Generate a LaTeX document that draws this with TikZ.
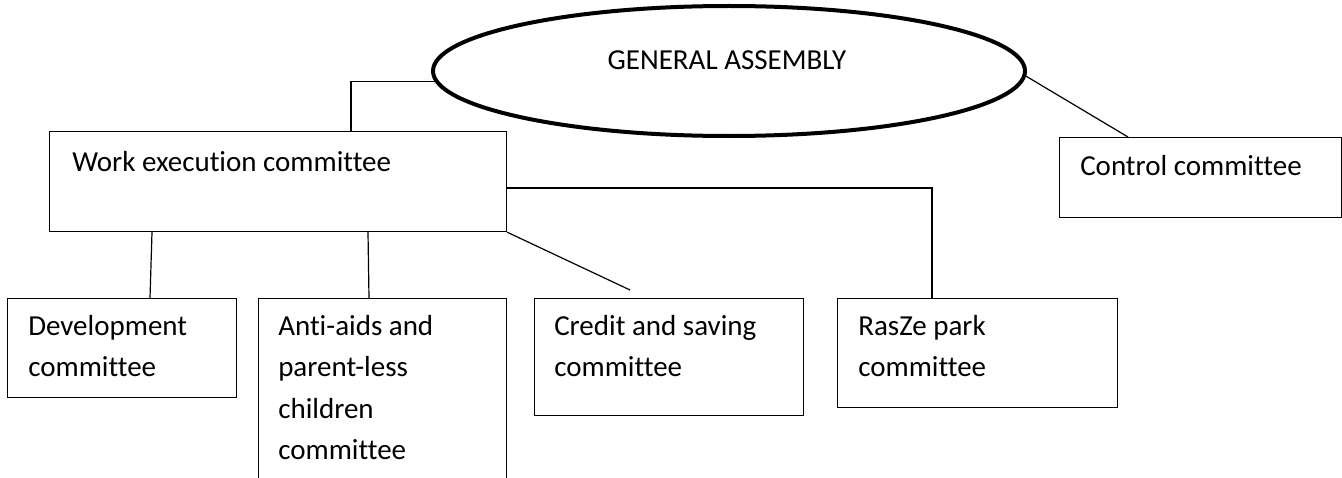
\documentclass[tikz,border=0pt]{standalone}
\usepackage{fontspec}
\setmainfont{Carlito}[Ligatures=NoCommon]
\usetikzlibrary{shapes.geometric,calc}
\tikzset{
  assembly/.style={draw, ellipse, line width=3pt, minimum width=444pt, minimum height=97.5pt, inner sep=0pt},
  cbox/.style={draw, rectangle, anchor=north west, line width=0.9pt, inner sep=0pt},
  ctext/.style={anchor=north west, align=left, inner sep=0pt, font=\fontsize{21.75}{31.1}\selectfont},
  link/.style={line width=0.9pt},
}
\begin{document}
\begin{tikzpicture}[x=0.75pt,y=0.75pt,yscale=-1,xscale=1]
        \useasboundingbox (0,0) rectangle (1342,478);

        %Shape: Ellipse
        \node[assembly] (ga) at (729,71) {};
        \node[ctext, anchor=center] (gatext) at ($(ga.center)+(-2,-11)$) {GENERAL ASSEMBLY};

        %Shape: Rectangle
        \node[cbox, minimum width=342.75pt, minimum height=75pt] (work) at (49,131) {};
        \node[ctext] (worktext) at ($(work.north west)+(23,20)$) {Work execution committee};
        %Shape: Rectangle
        \node[cbox, minimum width=211.5pt, minimum height=60pt] (control) at (1059,137) {};
        \node[ctext] (controltext) at ($(control.north west)+(21,18)$) {Control committee};
        %Shape: Rectangle
        \node[cbox, minimum width=171.75pt, minimum height=74.25pt] (dev) at (7,298) {};
        \node[ctext] (devtext) at ($(dev.north west)+(21,17)$) {Development\\committee};
        %Shape: Rectangle
        \node[cbox, minimum width=186pt, minimum height=166.5pt] (anti) at (258,298) {};
        \node[ctext] (antitext) at ($(anti.north west)+(20,17)$) {Anti-aids and\\parent-less\\children\\committee};
        %Shape: Rectangle
        \node[cbox, minimum width=201.75pt, minimum height=87.75pt] (credit) at (534,298) {};
        \node[ctext] (credittext) at ($(credit.north west)+(20,17)$) {Credit and saving\\committee};
        %Shape: Rectangle
        \node[cbox, minimum width=210pt, minimum height=81.75pt] (rasze) at (837,298) {};
        \node[ctext] (raszetext) at ($(rasze.north west)+(21,17)$) {RasZe park\\committee};

        \coordinate (creditgap) at (630,290);

        %Straight Lines
        \draw[link] (ga.182) -| ($(work.north west)+(302,0)$);
        %Straight Lines
        \draw[link] (ga.359) -- ($(control.north west)+(69,0)$);
        %Straight Lines
        \draw[link] ($(work.south west)+(103,0)$) -- ($(dev.north west)+(143,0)$);
        %Straight Lines
        \draw[link] ($(work.south west)+(319,0)$) -- ($(anti.north west)+(111,0)$);
        %Straight Lines
        \draw[link] (work.south east) -- (creditgap);
        %Straight Lines
        \draw[link] ($(work.north east)+(0,57)$) -| ($(rasze.north west)+(95,0)$);

\end{tikzpicture}
\end{document}
